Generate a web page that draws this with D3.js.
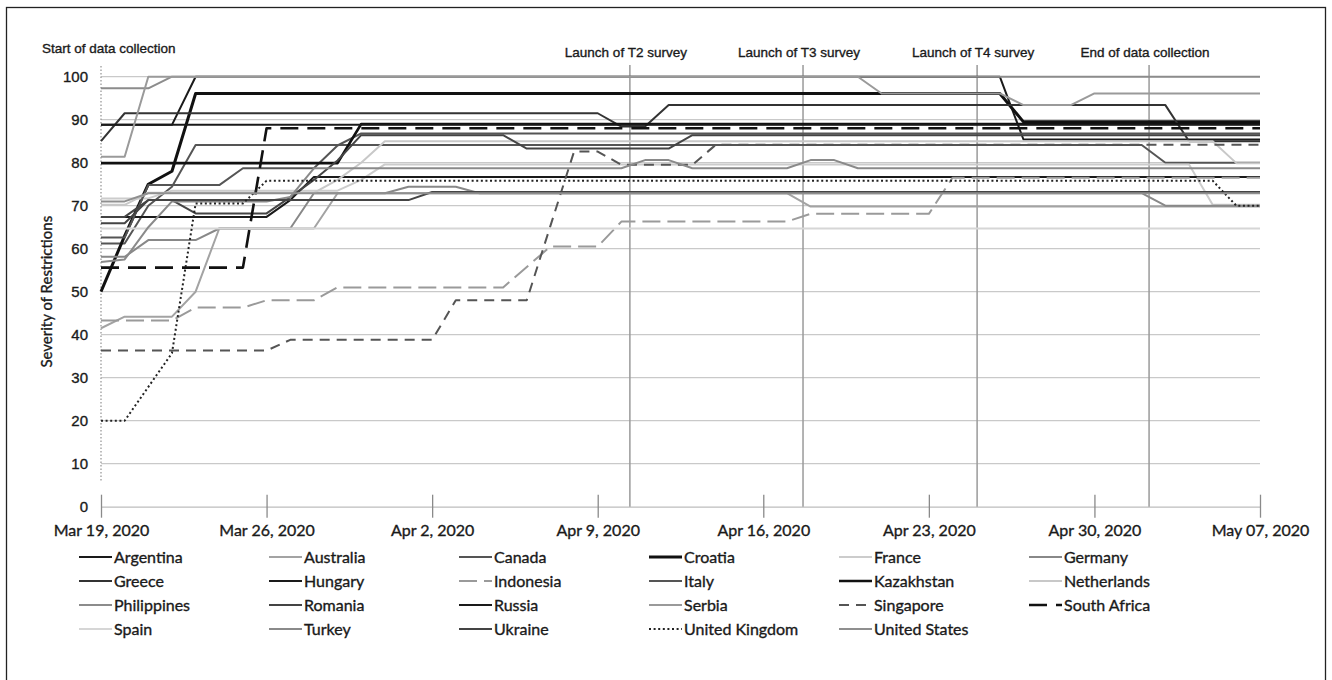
<!DOCTYPE html>
<html>
<head>
<meta charset="utf-8">
<script src="https://cdn.jsdelivr.net/npm/d3@7"></script>
<style>
  html, body { margin: 0; padding: 0; background: #fff; }
  svg { display: block; }
  text.heavy { stroke: #1a1a1a; stroke-width: 0.35px; }
</style>
</head>
<body>
<svg id="chart" width="1332" height="680"></svg>
<script>
// ---------------- DATA ----------------
const countries = ["Argentina","Australia","Canada","Croatia","France","Germany","Greece","Hungary","Indonesia","Italy","Kazakhstan","Netherlands","Philippines","Romania","Russia","Serbia","Singapore","South Africa","Spain","Turkey","Ukraine","United Kingdom","United States"];

// [days since Mar 19 2020, severity]
const argentina   = [[0,88.8],[3,88.8],[4,100],[38,100],[39,85.4],[49,85.4]];
const australia   = [[0,41.5],[1,44.2],[3,44.2],[4,50],[5,64.7],[9,64.7],[10,72.9],[29,72.9],[30,69.8],[49,69.8]];
const canada      = [[0,61.2],[1,61.2],[2,70],[3,74.4],[4,84.1],[44,84.1],[45,80],[49,80]];
const croatia     = [[0,50],[1,63],[2,75],[3,78],[4,96.1],[38,96.1],[39,89.5],[49,89.5]];
const france      = [[0,71.7],[2,71.7],[3,73.5],[10,73.5],[11,76],[12,79.6],[46,79.6],[47,70.2],[49,70.2]];
const germany     = [[0,58.1],[1,58.1],[2,62],[4,62],[5,64.7],[8,64.7],[9,72.9],[12,72.9],[13,74.4],[15,74.4],[16,72.9],[44,72.9],[45,70],[49,70]];
const greece      = [[0,85],[1,91.5],[21,91.5],[22,88.4],[23,88.4],[24,93.4],[45,93.4],[46,85],[49,85]];
const hungary     = [[0,67.4],[7,67.4],[8,71.3],[9,76.7],[49,76.7]];
const indonesia   = [[0,43.3],[3,43.3],[4,46.3],[6,46.3],[7,48],[9,48],[10,51],[17,51],[19,60.5],[21,60.5],[22,66.3],[29,66.3],[30,68.1],[35,68.1],[36,76.5],[49,76.5]];
const italy       = [[0,62.6],[1,62.6],[2,74.8],[5,74.8],[6,78.7],[9,78.7],[10,84],[11,86.8],[49,86.8]];
const kazakhstan  = [[0,79.9],[10,79.9],[11,89],[49,89]];
const netherlands = [[0,70.2],[1,70.2],[2,73],[9,73],[10,76],[11,80],[12,85],[47,85],[48,79.9],[49,79.9]];
const philippines = [[0,97.3],[2,97.3],[3,100],[49,100]];
const romania     = [[0,67.4],[1,67.4],[2,71.3],[3,71.3],[4,68.2],[7,68.2],[8,72],[9,76],[10,80.5],[11,86.4],[17,86.4],[18,83.3],[24,83.3],[25,86.4],[49,86.4]];
const russia      = [[0,88.8],[49,88.8]];
const serbia      = [[0,81.4],[1,81.4],[2,100],[32,100],[33,96.1],[38,96.1],[39,93.4],[41,93.4],[42,96.1],[49,96.1]];
const singapore   = [[0,36.3],[7,36.3],[8,38.8],[14,38.8],[15,48],[18,48],[20,82.6],[21,82.6],[22,79.5],[25,79.5],[26,84.2],[49,84.2]];
const southAfrica = [[0,55.6],[6,55.6],[7,88],[49,88]];
const spain       = [[0,64.7],[49,64.7]];
const turkey      = [[0,56.9],[1,57.5],[2,65],[3,71],[7,71],[8,72],[9,78.7],[22,78.7],[23,80.6],[24,80.6],[25,78.7],[29,78.7],[30,80.6],[31,80.6],[32,78.7],[49,78.7]];
const ukraine     = [[0,65.9],[1,65.9],[2,71.3],[13,71.3],[14,73.2],[49,73.2]];
const unitedKingdom = [[0,20],[1,20],[3,35.7],[4,70.5],[6,70.5],[7,75.8],[47,75.8],[48,70],[49,70]];
const unitedStates  = [[0,71],[1,71],[2,72.9],[49,72.9]];

const seriesValues = [argentina, australia, canada, croatia, france, germany, greece, hungary, indonesia, italy, kazakhstan, netherlands, philippines, romania, russia, serbia, singapore, southAfrica, spain, turkey, ukraine, unitedKingdom, unitedStates];

const tickDays   = [0, 7, 14, 21, 28, 35, 42, 49];
const tickLabels = ["Mar 19, 2020","Mar 26, 2020","Apr 2, 2020","Apr 9, 2020","Apr 16, 2020","Apr 23, 2020","Apr 30, 2020","May 07, 2020"];
const yTicks     = [0,10,20,30,40,50,60,70,80,90,100];
const eventDays   = [0, 22.36, 29.68, 37.04, 44.31];
const eventLabels = ["Start of data collection","Launch of T2 survey","Launch of T3 survey","Launch of T4 survey","End of data collection"];
const yTitle = "Severity of Restrictions";

// ---------------- STYLES ----------------
const styles = {
  "Argentina":      {c:"#1a1a1a", w:2},
  "Australia":      {c:"#a3a3a3", w:2},
  "Canada":         {c:"#555555", w:2},
  "Croatia":        {c:"#111111", w:3},
  "France":         {c:"#cccccc", w:2},
  "Germany":        {c:"#888888", w:2},
  "Greece":         {c:"#333333", w:2},
  "Hungary":        {c:"#1a1a1a", w:2},
  "Indonesia":      {c:"#9a9a9a", w:2, dash:"18,7"},
  "Italy":          {c:"#555555", w:2},
  "Kazakhstan":     {c:"#111111", w:2.6},
  "Netherlands":    {c:"#c8c8c8", w:2},
  "Philippines":    {c:"#8c8c8c", w:2},
  "Romania":        {c:"#444444", w:2},
  "Russia":         {c:"#1a1a1a", w:2},
  "Serbia":         {c:"#9a9a9a", w:2},
  "Singapore":      {c:"#555555", w:2, dash:"10,7"},
  "South Africa":   {c:"#111111", w:2.6, dash:"18,9"},
  "Spain":          {c:"#d6d6d6", w:2},
  "Turkey":         {c:"#8a8a8a", w:2},
  "Ukraine":        {c:"#444444", w:2},
  "United Kingdom": {c:"#222222", w:2, dash:"2,2.6"},
  "United States":  {c:"#8f8f8f", w:2}
};

// ---------------- CHART ----------------
const svg = d3.select("#chart");
const startDate = new Date(Date.UTC(2020, 2, 19));
const dayToDate = d => new Date(startDate.getTime() + d * 864e5);

const x = d3.scaleUtc().domain([dayToDate(0), dayToDate(49)]).range([101, 1260]);
const y = d3.scaleLinear().domain([0, 100]).range([506.7, 76.7]);

// frame
svg.append("rect").attr("x", 6.5).attr("y", 7.5).attr("width", 1319).attr("height", 690)
  .attr("fill", "none").attr("stroke", "#222").attr("stroke-width", 1.3);

// gridlines
svg.append("g").selectAll("line").data(yTicks.filter(t => t > 0)).join("line")
  .attr("x1", x(dayToDate(0))).attr("x2", x(dayToDate(49)))
  .attr("y1", d => y(d)).attr("y2", d => y(d))
  .attr("stroke", "#c9c9c9").attr("stroke-width", 1.2);

// y tick labels
const yAxis = d3.axisLeft(y).tickValues(yTicks).tickSize(0).tickPadding(0);
const gy = svg.append("g").attr("transform", "translate(88,0)").call(yAxis);
gy.select(".domain").remove();
gy.selectAll("text").attr("class", "heavy").attr("font-family", "Liberation Sans, Arial, sans-serif")
  .attr("font-size", 15).attr("fill", "#1a1a1a").attr("dy", "0.35em");

// x axis
const xAxis = d3.axisBottom(x).tickValues(tickDays.map(dayToDate))
  .tickFormat((d, i) => tickLabels[i]).tickSize(0).tickPadding(18);
const gx = svg.append("g").attr("transform", `translate(0,${y(0)})`).call(xAxis);
gx.select(".domain").attr("stroke", "#bdbdbd").attr("stroke-width", 1.3);
gx.selectAll("text").attr("class", "heavy").attr("font-family", "Lato, sans-serif").attr("font-size", 16).attr("fill", "#1a1a1a");
gx.selectAll(".tick").append("line").attr("y1", -12).attr("y2", 11)
  .attr("stroke", "#8a8a8a").attr("stroke-width", 1.3);

// y title
svg.append("text").attr("class", "heavy").attr("transform", `translate(52,${y(50)}) rotate(-90)`)
  .attr("text-anchor", "middle").attr("font-family", "Lato, sans-serif")
  .attr("font-size", 15).attr("fill", "#1a1a1a").text(yTitle);

// event lines
eventDays.forEach((d, i) => {
  const ex = x(dayToDate(d));
  if (i === 0) {
    svg.append("line").attr("x1", ex).attr("x2", ex).attr("y1", 66).attr("y2", 481)
      .attr("stroke", "#9a9a9a").attr("stroke-width", 1.3).attr("stroke-dasharray", "1.5,2");
    svg.append("text").attr("class", "heavy").attr("x", 42).attr("y", 48).attr("dy", "0.35em")
      .attr("font-family", "Liberation Sans, Arial, sans-serif").attr("font-size", 13.5)
      .attr("fill", "#1a1a1a").text(eventLabels[i]);
  } else {
    svg.append("line").attr("x1", ex).attr("x2", ex).attr("y1", 65).attr("y2", y(0))
      .attr("stroke", "#9a9a9a").attr("stroke-width", 1.5);
    svg.append("text").attr("class", "heavy").attr("x", ex - 4).attr("y", 52).attr("dy", "0.35em").attr("text-anchor", "middle")
      .attr("font-family", "Liberation Sans, Arial, sans-serif").attr("font-size", 13.5)
      .attr("fill", "#1a1a1a").text(eventLabels[i]);
  }
});

// series lines
const line = d3.line().x(d => x(dayToDate(d[0]))).y(d => y(d[1]));
const gl = svg.append("g");
countries.forEach((c, i) => {
  const s = styles[c];
  gl.append("path").datum(seriesValues[i]).attr("d", line)
    .attr("fill", "none").attr("stroke", s.c).attr("stroke-width", s.w)
    .attr("stroke-dasharray", s.dash || null).attr("stroke-linejoin", "round");
});

// legend
const legCols = 6, colW = 190, legX0 = 79, rowH = 24, legY0 = 557;
const lg = svg.append("g");
countries.forEach((c, i) => {
  const s = styles[c];
  const lx = legX0 + (i % legCols) * colW;
  const ly = legY0 + Math.floor(i / legCols) * rowH;
  lg.append("line").attr("x1", lx).attr("x2", lx + 33).attr("y1", ly).attr("y2", ly)
    .attr("stroke", s.c).attr("stroke-width", s.w).attr("stroke-dasharray", s.dash || null);
  lg.append("text").attr("class", "heavy").attr("x", lx + 35).attr("y", ly).attr("dy", "0.35em")
    .attr("font-family", "Lato, sans-serif").attr("font-size", 16).attr("fill", "#1a1a1a").text(c);
});
</script>
</body>
</html>
